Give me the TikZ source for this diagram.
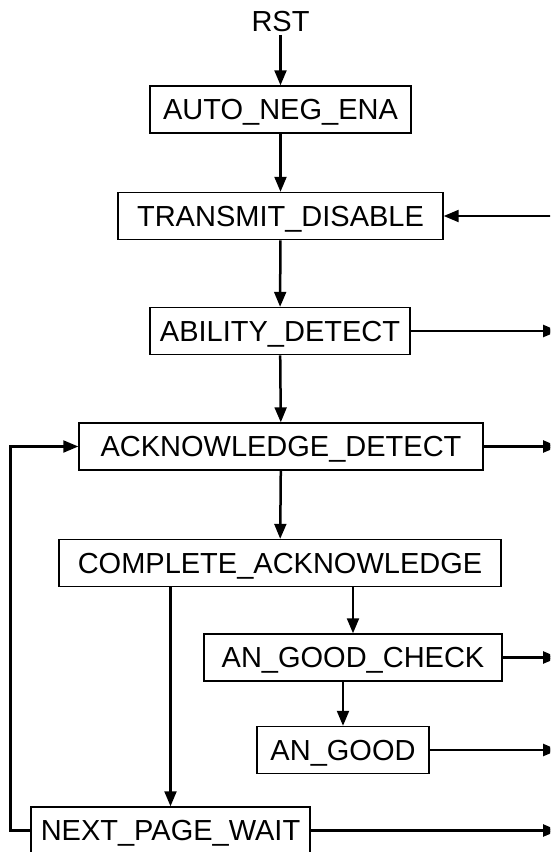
\documentclass[tikz,border=0pt]{standalone}
\usepackage{fontspec}
\setmainfont{Liberation Sans}
\usetikzlibrary{arrows}

\begin{document}
\begin{tikzpicture}[line join=miter,>=triangle 45,x=1pt,y=-1pt,
  state/.style={draw=black,line width=1.7pt,minimum height=47pt,inner xsep=0pt,
    text height=20.5pt,text depth=0pt,font=\fontsize{29}{34}\selectfont},
  trans/.style={line width=2.5pt}]
\useasboundingbox (0,0) rectangle (550,852);
\clip (0,0) rectangle (550,852);
\node[font=\fontsize{29}{34}\selectfont,text height=20.5pt,text depth=0pt] (rst) at (280.5,21) {RST};
\node[state,minimum width=261pt] (ane) at (280.5,109.5) {AUTO\_NEG\_ENA};
\node[state,minimum width=325pt] (td) at (280.5,216) {TRANSMIT\_DISABLE};
\node[state,minimum width=260pt] (abd) at (280,331) {ABILITY\_DETECT};
\node[state,minimum width=404pt] (ackd) at (281,446.5) {ACKNOWLEDGE\_DETECT};
\node[state,minimum width=442pt] (cack) at (280,563) {COMPLETE\_ACKNOWLEDGE};
\node[state,minimum width=298pt] (agc) at (353,657.5) {AN\_GOOD\_CHECK};
\node[state,minimum width=172pt] (ag) at (343,750) {AN\_GOOD};
\node[state,minimum width=279pt] (npw) at (170.5,830.5) {NEXT\_PAGE\_WAIT};
% free ends at the right border
\coordinate (tdin) at (558,216);
\coordinate (abdout) at (558,331);
\coordinate (ackdout) at (558,446.5);
\coordinate (agcout) at (558,657.5);
\coordinate (agout) at (558,750);
\coordinate (npwout) at (558,830.5);
\draw [trans,->] (rst) -- (ane);
\draw [trans,->] (ane) -- (td);
\draw [trans,->] (td) -- (abd);
\draw [trans,->] (abd) -- (ackd);
\draw [trans,->] (ackd) -- (cack);
\draw [trans,->] (agc.north |- cack.south) -- (agc.north);
\draw [trans,->] (npw.north |- cack.south) -- (npw.north);
\draw [trans,->] (ag.north |- agc.south) -- (ag.north);
\draw [trans,->] (tdin) -- (td.east);
\draw [trans,->] (abd.east) -- (abdout);
\draw [trans,->] (ackd.east) -- (ackdout);
\draw [trans,->] (agc.east) -- (agcout);
\draw [trans,->] (ag.east) -- (agout);
\draw [trans,->] (npw.east) -- (npwout);
\draw [trans,->] (npw.west) -- ++(-19.5,0) |- (ackd.west);
\end{tikzpicture}
\end{document}
